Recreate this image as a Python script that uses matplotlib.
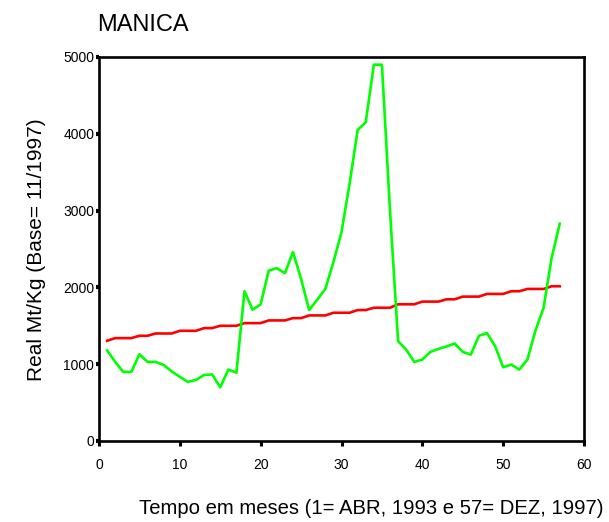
import matplotlib
matplotlib.use("Agg")
import matplotlib.pyplot as plt

plt.rcParams['font.family'] = ['Liberation Sans', 'DejaVu Sans']

# months 1..57 (1 = ABR 1993, 57 = DEZ 1997)
months = list(range(1, 58))

# real price, Mt/Kg (green)
price = [1180, 1030, 900, 900, 1130, 1030, 1030, 990, 905, 835,
         770, 795, 860, 866, 700, 930, 890, 1950, 1710, 1780,
         2220, 2250, 2185, 2460, 2110, 1706, 1840, 1980, 2330, 2720,
         3350, 4050, 4150, 4900, 4900, 3000, 1300, 1190, 1030, 1060,
         1160, 1200, 1231, 1270, 1160, 1125, 1370, 1405, 1236, 960,
         995, 930, 1060, 1440, 1735, 2385, 2830]

# trend (red)
trend = [1305, 1340, 1340, 1340, 1370, 1370, 1400, 1400, 1400, 1435,
         1435, 1435, 1470, 1470, 1500, 1500, 1500, 1535, 1535, 1535,
         1570, 1570, 1570, 1600, 1600, 1635, 1635, 1635, 1670, 1670,
         1670, 1705, 1705, 1735, 1735, 1735, 1780, 1780, 1780, 1815,
         1815, 1815, 1845, 1845, 1880, 1880, 1880, 1915, 1915, 1915,
         1950, 1950, 1980, 1980, 1980, 2015, 2015]

xticks = [0, 10, 20, 30, 40, 50, 60]
yticks = [0, 1000, 2000, 3000, 4000, 5000]

fig = plt.figure(figsize=(6.09, 5.22), dpi=100)
ax = fig.add_axes([99 / 609, 1 - 441 / 522, 485 / 609, 384 / 522])

ax.plot(months, trend, color='#ff0000', lw=1.9, zorder=2)
ax.plot(months, price, color='#00ff00', lw=1.9, zorder=3)

ax.set_xlim(0, 60)
ax.set_ylim(0, 5000)
ax.set_xticks(xticks)
ax.set_yticks(yticks)

for s in ax.spines.values():
    s.set_linewidth(1.9)
    s.set_color('black')

ax.tick_params(axis='x', direction='out', length=3.6, width=2.2,
               pad=8.6, labelsize=10)
ax.tick_params(axis='y', direction='out', length=2.2, width=3,
               pad=1.2, labelsize=10)

fig.text(97 / 609, 1 - 31 / 522, 'MANICA', fontsize=17,
         ha='left', va='baseline')
fig.text(371.5 / 609, 1 - 509 / 522,
         'Tempo em meses (1= ABR, 1993 e 57= DEZ, 1997)',
         fontsize=14.6, ha='center', va='center')
fig.text(37 / 609, 1 - 250 / 522, 'Real Mt/Kg (Base= 11/1997)',
         fontsize=15, rotation=90, ha='center', va='center')

fig.savefig('out.png', dpi=100)
